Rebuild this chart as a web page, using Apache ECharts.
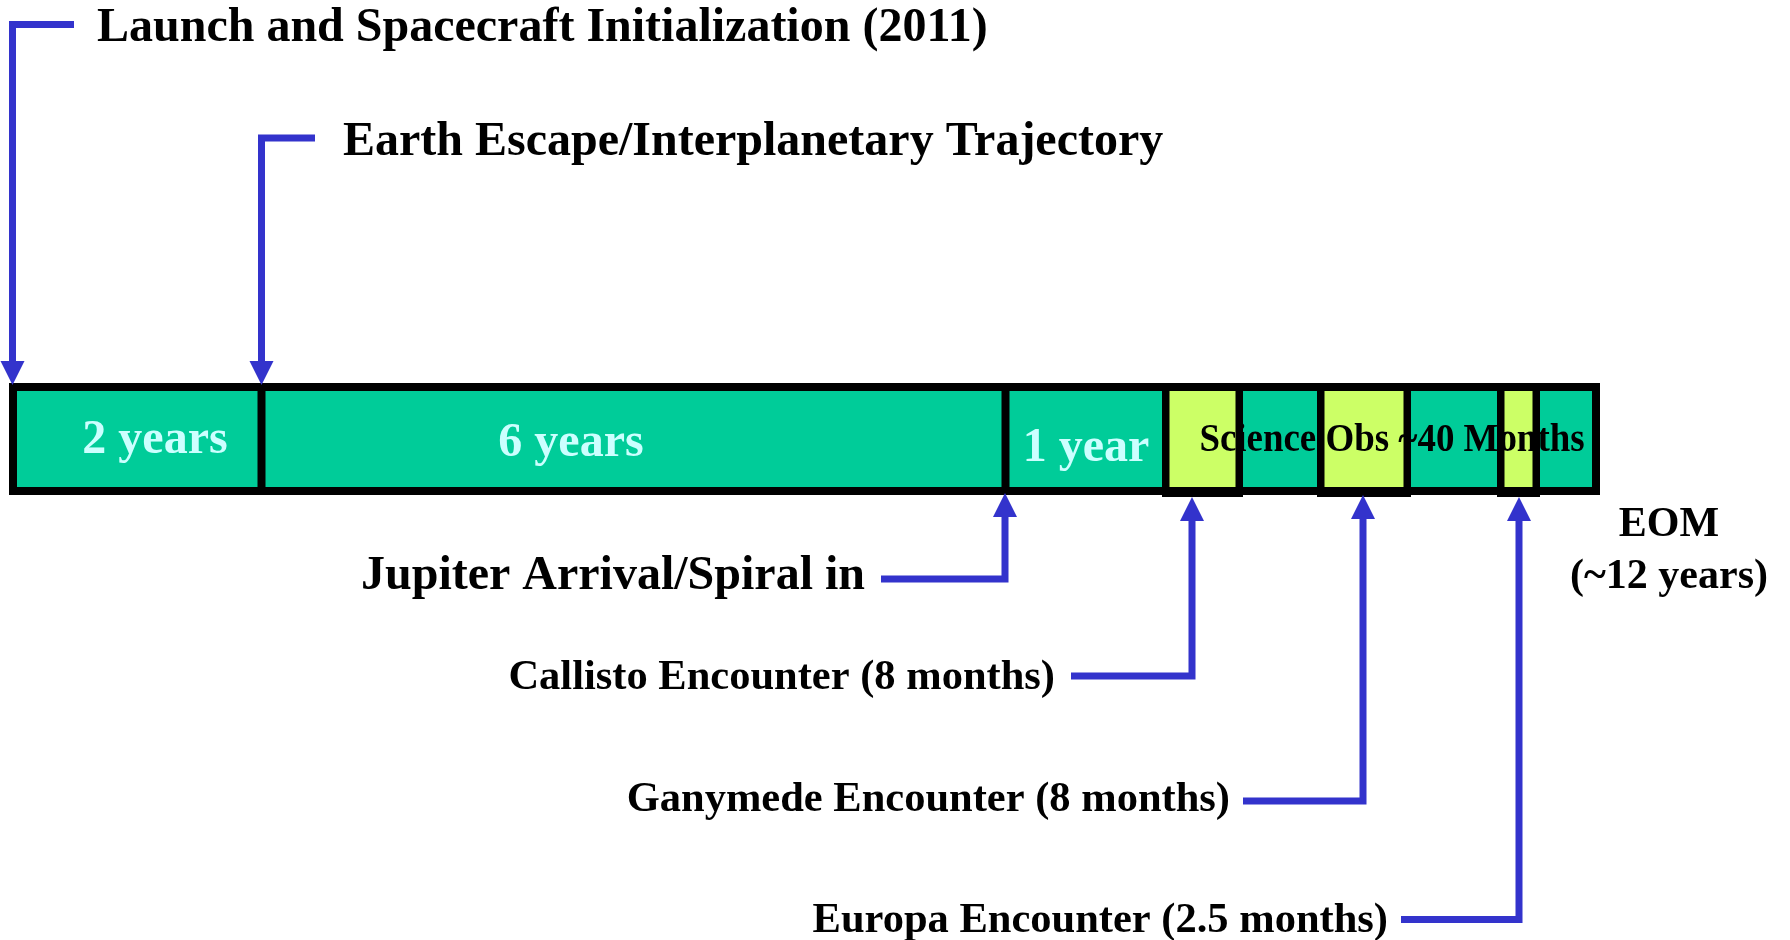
<!DOCTYPE html>
<html>
<head>
<meta charset="utf-8">
<script src="https://cdn.jsdelivr.net/npm/echarts@6/dist/echarts.min.js"></script>
<style>
  html, body { margin: 0; padding: 0; background: #fff; }
  #chart { width: 1790px; height: 940px; }
</style>
</head>
<body>
<div id="chart"></div>
<script>
// timeline in drawing units, 0 = left edge of the mission bar
const barEnd = 1591;
const phaseLabels = ['2 years', '6 years', '1 year'];
const phaseEnd = [252, 996, 1153];
const phaseLabelX = [146, 562, 1077];
const phaseLabelY = [437, 440, 445];
const scienceLabel = 'Science Obs ~40 Months';
const scienceLabelX = 1383;

const encounterStart = [1153, 1308, 1488];
const encounterEnd = [1234, 1402, 1531];

const topNames = ['Launch and Spacecraft Initialization (2011)', 'Earth Escape/Interplanetary Trajectory'];
const topArrowX = [3.5, 252.5];
const topLineY = [24.5, 138];
const topLineEnd = [65, 306];
const topLabelX = [88, 334];

const bottomNames = ['Jupiter Arrival/Spiral in', 'Callisto Encounter (8 months)', 'Ganymede Encounter (8 months)', 'Europa Encounter (2.5 months)'];
const bottomArrowX = [996, 1183, 1354, 1510];
const bottomTipY = [493, 497, 495, 497];
const bottomLineY = [579, 676, 801, 919.5];
const bottomLineStart = [872, 1062, 1234, 1392];
const bottomLabelRight = [856, 1046, 1221, 1379];
const bottomLabelY = [573, 674, 796, 917];
const bottomFontSize = [48, 42.5, 42.5, 42.5];

const eomLines = ['EOM', '(~12 years)'];
const eomX = 1660;
const eomY = [521, 573];

const BAR_TOP = 383, BAR_BOTTOM = 495, BOX_BOTTOM = 497;
const TEAL = '#00CC99', YELLOW = '#CCFF66', BLUE = '#3333CC', PALE = '#CCFFFF';
const FONT = '"Liberation Serif", "Times New Roman", serif';
const TEXT_DY = 4; // Liberation Serif sits a little high with middle alignment

const chart = echarts.init(document.getElementById('chart'));

function rectBetween(api, x0, x1, y0, y1) {
  const a = api.coord([x0, y0]);
  const b = api.coord([x1, y1]);
  return { x: a[0], y: a[1], width: b[0] - a[0], height: b[1] - a[1] };
}

function serifText(x, y, text, size, color, align) {
  return {
    type: 'text',
    x: x, y: y + TEXT_DY,
    style: { text: text, fill: color, fontFamily: FONT, fontWeight: 'bold', fontSize: size, align: align, verticalAlign: 'middle' }
  };
}

const option = {
  animation: false,
  grid: { left: 9, right: 190, top: 0, bottom: 0 },
  xAxis: { type: 'value', min: 0, max: barEnd, show: false },
  yAxis: { type: 'value', min: 0, max: 940, inverse: true, show: false },
  series: [
    {
      // teal mission bar
      type: 'custom', z: 1,
      data: [[0, barEnd]],
      renderItem: (params, api) => ({
        type: 'rect',
        shape: rectBetween(api, api.value(0), api.value(1), BAR_TOP, BAR_BOTTOM),
        style: { fill: TEAL }
      })
    },
    {
      // yellow encounter windows
      type: 'custom', z: 2,
      data: encounterStart.map((s, i) => [s, encounterEnd[i]]),
      renderItem: (params, api) => ({
        type: 'rect',
        shape: rectBetween(api, api.value(0), api.value(1), BAR_TOP, BOX_BOTTOM),
        style: { fill: YELLOW }
      })
    },
    {
      // phase duration labels
      type: 'custom', z: 3,
      data: phaseLabelX.map((x, i) => [x, phaseLabelY[i]]),
      renderItem: (params, api) => {
        const p = api.coord([api.value(0), api.value(1)]);
        return serifText(p[0], p[1], phaseLabels[params.dataIndex], 48, PALE, 'center');
      }
    },
    {
      type: 'custom', z: 3,
      data: [[scienceLabelX, 436]],
      renderItem: (params, api) => {
        const p = api.coord([api.value(0), api.value(1)]);
        const t = serifText(p[0], p[1], scienceLabel, 41, '#000', 'center');
        t.scaleX = 0.9;
        return t;
      }
    },
    {
      // black bar outline and dividers
      type: 'custom', z: 4,
      data: [[0, barEnd]],
      renderItem: (params, api) => {
        const r = rectBetween(api, api.value(0), api.value(1), BAR_TOP, BAR_BOTTOM);
        const children = [{
          type: 'rect',
          shape: { x: r.x + 4, y: r.y + 4, width: r.width - 8, height: r.height - 8 },
          style: { fill: null, stroke: '#000', lineWidth: 8 }
        }];
        phaseEnd.slice(0, 2).forEach(x => {
          const a = api.coord([x, BAR_TOP]);
          const b = api.coord([x, BAR_BOTTOM]);
          children.push({ type: 'line', shape: { x1: a[0] + 0.5, y1: a[1], x2: b[0] + 0.5, y2: b[1] }, style: { stroke: '#000', lineWidth: 8 } });
        });
        return { type: 'group', children: children };
      }
    },
    {
      // black encounter box outlines
      type: 'custom', z: 4,
      data: encounterStart.map((s, i) => [s, encounterEnd[i]]),
      renderItem: (params, api) => {
        const r = rectBetween(api, api.value(0), api.value(1), BAR_TOP, BOX_BOTTOM);
        return {
          type: 'rect',
          shape: { x: r.x + 3.75, y: r.y + 3.75, width: r.width - 7.5, height: r.height - 7.5 },
          style: { fill: null, stroke: '#000', lineWidth: 7.5 }
        };
      }
    },
    {
      // top call-outs with down arrows
      type: 'custom', z: 5,
      data: topArrowX.map((x, i) => [x, topLineY[i], topLineEnd[i], topLabelX[i]]),
      renderItem: (params, api) => {
        const tip = api.coord([api.value(0), BAR_TOP + 2]);
        const corner = api.coord([api.value(0), api.value(1)]);
        const end = api.coord([api.value(2), api.value(1)]);
        const lab = api.coord([api.value(3), api.value(1)]);
        return {
          type: 'group',
          children: [
            { type: 'polyline', shape: { points: [end, corner, [tip[0], tip[1] - 22]] }, style: { stroke: BLUE, lineWidth: 7, lineJoin: 'miter', fill: null } },
            { type: 'polygon', shape: { points: [tip, [tip[0] - 12, tip[1] - 24], [tip[0] + 12, tip[1] - 24]] }, style: { fill: BLUE } },
            serifText(lab[0], lab[1] + 0.5, topNames[params.dataIndex], 48, '#000', 'left')
          ]
        };
      }
    },
    {
      // bottom call-outs with up arrows
      type: 'custom', z: 5,
      data: bottomArrowX.map((x, i) => [x, bottomTipY[i], bottomLineY[i], bottomLineStart[i], bottomLabelRight[i], bottomLabelY[i]]),
      renderItem: (params, api) => {
        const i = params.dataIndex;
        const tip = api.coord([api.value(0), api.value(1)]);
        const corner = api.coord([api.value(0), api.value(2)]);
        const start = api.coord([api.value(3), api.value(2)]);
        const lab = api.coord([api.value(4), api.value(5)]);
        return {
          type: 'group',
          children: [
            { type: 'polyline', shape: { points: [start, corner, [tip[0], tip[1] + 22]] }, style: { stroke: BLUE, lineWidth: 7, lineJoin: 'miter', fill: null } },
            { type: 'polygon', shape: { points: [tip, [tip[0] - 12, tip[1] + 24], [tip[0] + 12, tip[1] + 24]] }, style: { fill: BLUE } },
            serifText(lab[0], lab[1], bottomNames[i], bottomFontSize[i], '#000', 'right')
          ]
        };
      }
    },
    {
      // end of mission note
      type: 'custom', z: 5,
      data: eomY.map(y => [eomX, y]),
      renderItem: (params, api) => {
        const p = api.coord([api.value(0), api.value(1)]);
        return serifText(p[0], p[1], eomLines[params.dataIndex], 42, '#000', 'center');
      }
    }
  ]
};

chart.setOption(option);
window.addEventListener('resize', () => chart.resize());
</script>
</body>
</html>
